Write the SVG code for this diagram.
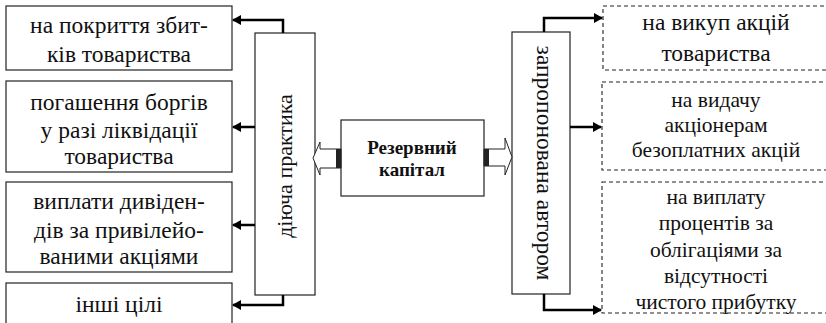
<svg xmlns="http://www.w3.org/2000/svg" width="826" height="323" viewBox="0 0 826 323" font-family="Liberation Serif, Times New Roman, serif">
<style>
.box{fill:#fff;stroke:#222;stroke-width:1.2}
.dbox{fill:#fff;stroke:#222;stroke-width:1.1;stroke-dasharray:4 3}
.t{font-family:'Liberation Serif','Times New Roman',serif;font-size:23.5px;fill:#111;text-anchor:middle}
.tr{font-family:'Liberation Serif','Times New Roman',serif;font-size:21.5px;fill:#111;text-anchor:middle}
.tb{font-family:'Liberation Serif','Times New Roman',serif;font-size:19px;font-weight:bold;fill:#111;text-anchor:middle}
.c{fill:none;stroke:#000;stroke-width:2.5}
.h{fill:#fff;stroke:#222;stroke-width:1}
</style>
<defs>
<marker id="ah" markerWidth="10" markerHeight="10" refX="8" refY="5" orient="auto" markerUnits="userSpaceOnUse">
<path d="M0,0 L9,5 L0,10 Z" fill="#000"/>
</marker>
</defs>
<rect width="826" height="323" fill="#fff"/>

<g id="n-left1"><rect class="box" x="6" y="6" width="226" height="64"/>
<text class="t" x="119" y="33">на покриття збит-</text><text class="t" x="119" y="62">ків товариства</text></g>
<g id="n-left2"><rect class="box" x="6" y="81" width="226" height="91"/>
<text class="t" x="119" y="110">погашення боргів</text><text class="t" x="119" y="138">у разі ліквідації</text><text class="t" x="119" y="164">товариства</text></g>
<g id="n-left3"><rect class="box" x="6" y="182" width="226" height="90"/>
<text class="t" x="119" y="209">виплати дивіден-</text><text class="t" x="119" y="238">дів за привілейо-</text><text class="t" x="119" y="264">ваними акціями</text></g>
<g id="n-left4"><rect class="box" x="6" y="283" width="226" height="50"/>
<text class="t" x="119" y="312">інші цілі</text></g>

<g id="n-practice"><rect class="box" x="255" y="33" width="60" height="262"/>
<text class="t" style="font-size:22px" transform="translate(292,166) rotate(-90)">діюча практика</text></g>

<g id="n-reserve"><rect class="box" x="341" y="120" width="143" height="76"/>
<text class="tb" x="412" y="154">Резервний</text><text class="tb" x="412" y="176">капітал</text></g>

<g id="n-author"><rect class="box" x="512" y="32" width="58" height="262"/>
<text class="t" transform="translate(537,163) rotate(90)">запропонована автором</text></g>

<g id="n-right1"><rect class="dbox" x="603" y="6" width="230" height="64"/>
<text class="t" x="716" y="30">на викуп акцій</text><text class="t" x="716" y="61">товариства</text></g>
<g id="n-right2"><rect class="dbox" x="602" y="82" width="230" height="88"/>
<text class="tr" x="716" y="107">на видачу</text><text class="tr" x="716" y="132">акціонерам</text><text class="tr" x="716" y="157">безоплатних акцій</text></g>
<g id="n-right3"><rect class="dbox" x="602" y="182" width="230" height="131"/>
<text class="tr" x="716" y="204">на виплату</text><text class="tr" x="716" y="230">процентів за</text><text class="tr" x="716" y="257">облігаціями за</text><text class="tr" x="716" y="283">відсутності</text><text class="tr" x="716" y="309">чистого прибутку</text></g>

<g id="connectors">
<path class="c" d="M283,33 V20 H233" marker-end="url(#ah)"/>
<path class="c" d="M255,127 H233" marker-end="url(#ah)"/>
<path class="c" d="M255,225 H233" marker-end="url(#ah)"/>
<path class="c" d="M283,295 V305 H233" marker-end="url(#ah)"/>
<path class="c" d="M544,32 V18 H602" marker-end="url(#ah)"/>
<path class="c" d="M570,127 H601" marker-end="url(#ah)"/>
<path class="c" d="M544,294 V310 H601" marker-end="url(#ah)"/>
<path class="h" d="M341,149 H320 V142 L313,158 L320,175 V168 H341 Z"/>
<rect x="336" y="149" width="5" height="19" fill="#222"/>
<path class="h" d="M484,149 H505 V138 L512,157 L505,175 V166 H484 Z"/>
<rect x="484" y="149" width="5" height="17" fill="#222"/>
</g>
</svg>
